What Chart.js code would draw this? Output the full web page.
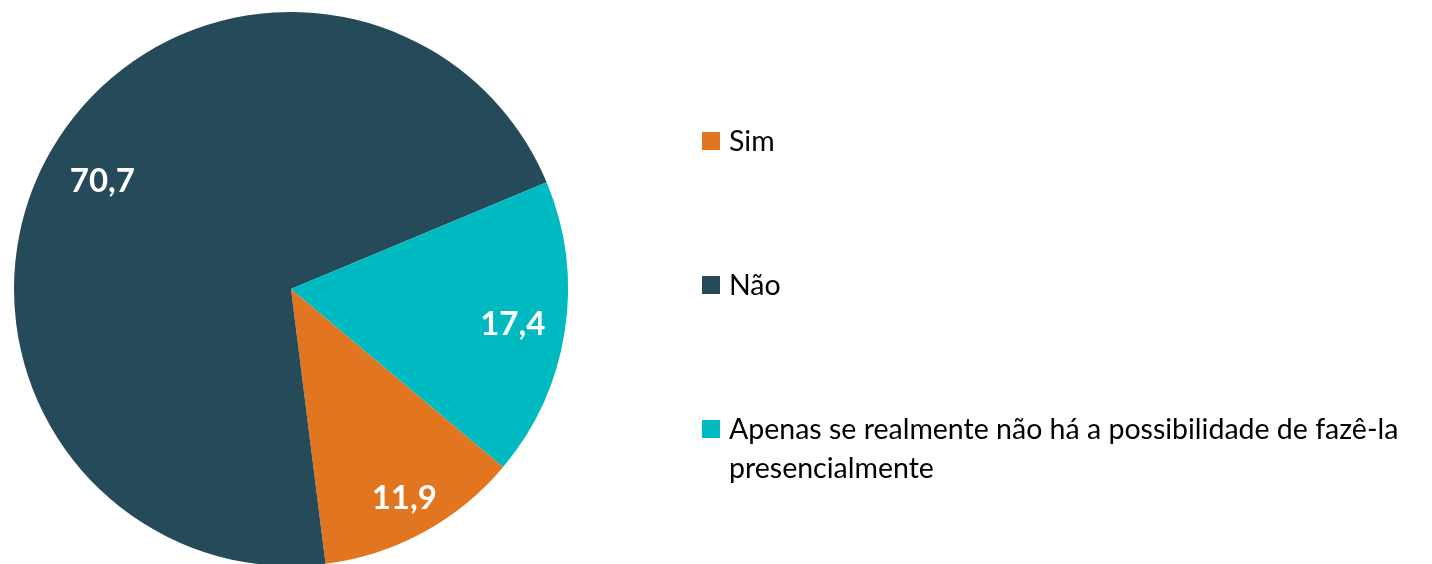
<!DOCTYPE html>
<html lang="pt">
<head>
<meta charset="utf-8">
<title>Pie</title>
<script src="https://cdn.jsdelivr.net/npm/chart.js@4/dist/chart.umd.min.js"></script>
<style>
  html, body { margin: 0; padding: 0; background: #fff; overflow: hidden; }
  #wrap { position: relative; width: 1432px; height: 580px; }
</style>
</head>
<body>
<div id="wrap"><canvas id="pie" width="1432" height="580"></canvas></div>
<script>
// categories + values
const labels = ["Sim", "Não", ["Apenas se realmente não há a possibilidade de fazê-la", "presencialmente"]];
const values = [11.9, 70.7, 17.4];
const colors = ["#E27520", "#254A5A", "#00BAC2"];

// value labels sit at a fraction of the radius (Excel best fit)
const labelRadius = [0.855, 0.787, 0.81];

const valueLabels = {
  id: "valueLabels",
  afterDatasetsDraw(chart) {
    const ctx = chart.ctx;
    const meta = chart.getDatasetMeta(0);
    ctx.save();
    ctx.font = "bold 33px Lato";
    ctx.fillStyle = "#fff";
    ctx.textAlign = "center";
    ctx.textBaseline = "alphabetic";
    meta.data.forEach((arc, i) => {
      const p = arc.getProps(["x", "y", "startAngle", "endAngle", "outerRadius"], true);
      const mid = (p.startAngle + p.endAngle) / 2;
      const r = p.outerRadius * labelRadius[i];
      const x = p.x + Math.cos(mid) * r;
      const y = p.y + Math.sin(mid) * r;
      ctx.fillText(values[i].toFixed(1).replace(".", ","), x, y + 12);
    });
    ctx.restore();
  }
};

// legend drawn on the right, like the Excel one
const sideLegend = {
  id: "sideLegend",
  afterDraw(chart) {
    const ctx = chart.ctx;
    ctx.save();
    ctx.font = "28.5px Lato";
    ctx.textBaseline = "alphabetic";
    ctx.textAlign = "left";
    labels.forEach((lab, i) => {
      const base = 150.5 + i * 144;
      ctx.fillStyle = colors[i];
      ctx.fillRect(702, base - 18.5, 18, 18);
      ctx.fillStyle = "#000";
      const lines = Array.isArray(lab) ? lab : [lab];
      lines.forEach((t, j) => ctx.fillText(t, 729, base + j * 39));
    });
    ctx.restore();
  }
};

new Chart(document.getElementById("pie"), {
  type: "pie",
  data: {
    labels: labels,
    datasets: [{
      data: values,
      backgroundColor: colors,
      borderWidth: 0
    }]
  },
  options: {
    responsive: false,
    animation: false,
    rotation: 130,
    layout: { padding: { left: 14, top: 12, right: 864, bottom: 14 } },
    plugins: {
      legend: { display: false },
      tooltip: { enabled: false }
    }
  },
  plugins: [valueLabels, sideLegend]
});
</script>
</body>
</html>
